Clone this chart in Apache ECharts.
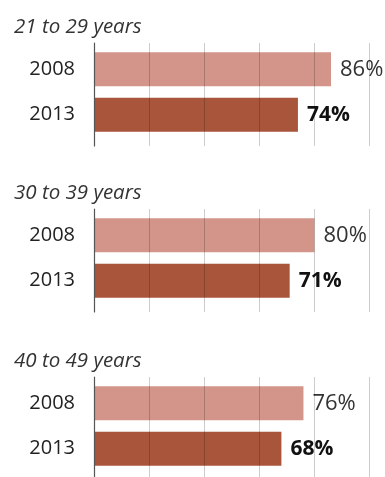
<!DOCTYPE html>
<html>
<head>
<meta charset="utf-8">
<script src="https://cdn.jsdelivr.net/npm/echarts@6/dist/echarts.min.js"></script>
<style>
html,body{margin:0;padding:0;background:#fff;}
#c{width:385px;height:477px;}
</style>
</head>
<body>
<div id="c"></div>
<script>
const groups = ['21 to 29 years', '30 to 39 years', '40 to 49 years'];
const years = ['2008', '2013'];
const values2008 = [86, 80, 76];
const values2013 = [74, 71, 68];
const xTicks = [0, 20, 40, 60, 80, 100];

const FONT = '"Open Sans", "Noto Sans", sans-serif';
const offsets = [0, 166, 334];
const light = '#d3958a';
const dark = '#a9553b';

const chart = echarts.init(document.getElementById('c'), null, {renderer: 'canvas'});

const title = [], grid = [], xAxis = [], yAxis = [], series = [];
groups.forEach((g, i) => {
  const off = offsets[i];
  title.push({
    text: g, left: 9, top: 12 + off,
    textStyle: {fontFamily: FONT, fontStyle: 'italic', fontWeight: 'normal', fontSize: 20.5, color: '#333'}
  });
  grid.push({left: 94, width: 275.6, top: 46.5 + off, height: 91});
  grid.push({left: 94, width: 275.6, top: 43 + off, height: 103});
  const bi = 2 * i, li = 2 * i + 1;
  xAxis.push({gridIndex: bi, type: 'value', min: xTicks[0], max: xTicks[xTicks.length - 1], show: false});
  xAxis.push({
    gridIndex: li, type: 'value', min: xTicks[0], max: xTicks[xTicks.length - 1], interval: 20, z: 5,
    axisLine: {show: false}, axisTick: {show: false}, axisLabel: {show: false},
    splitLine: {show: true, lineStyle: {color: 'rgba(0,0,0,0.2)', width: 1}}
  });
  yAxis.push({
    gridIndex: bi, type: 'category', inverse: true, data: years,
    axisLine: {show: false}, axisTick: {show: false},
    axisLabel: {fontFamily: FONT, fontSize: 20, color: '#222', margin: 19}
  });
  yAxis.push({
    gridIndex: li, type: 'value', min: 0, max: 1, z: 6,
    axisLine: {show: true, lineStyle: {color: '#555', width: 1.2}},
    axisTick: {show: false}, axisLabel: {show: false}, splitLine: {show: false}
  });
  series.push({
    type: 'bar', xAxisIndex: bi, yAxisIndex: bi, barWidth: 34, z: 2,
    label: {show: true, position: 'right', distance: 9, formatter: '{c}%', fontFamily: FONT},
    data: [
      {value: values2008[i], itemStyle: {color: light}, label: {color: '#333', fontWeight: 'normal', fontSize: 22}},
      {value: values2013[i], itemStyle: {color: dark}, label: {color: '#111', fontWeight: 'bold', fontSize: 21}}
    ]
  });
});

chart.setOption({animation: false, title, grid, xAxis, yAxis, series});
</script>
</body>
</html>
